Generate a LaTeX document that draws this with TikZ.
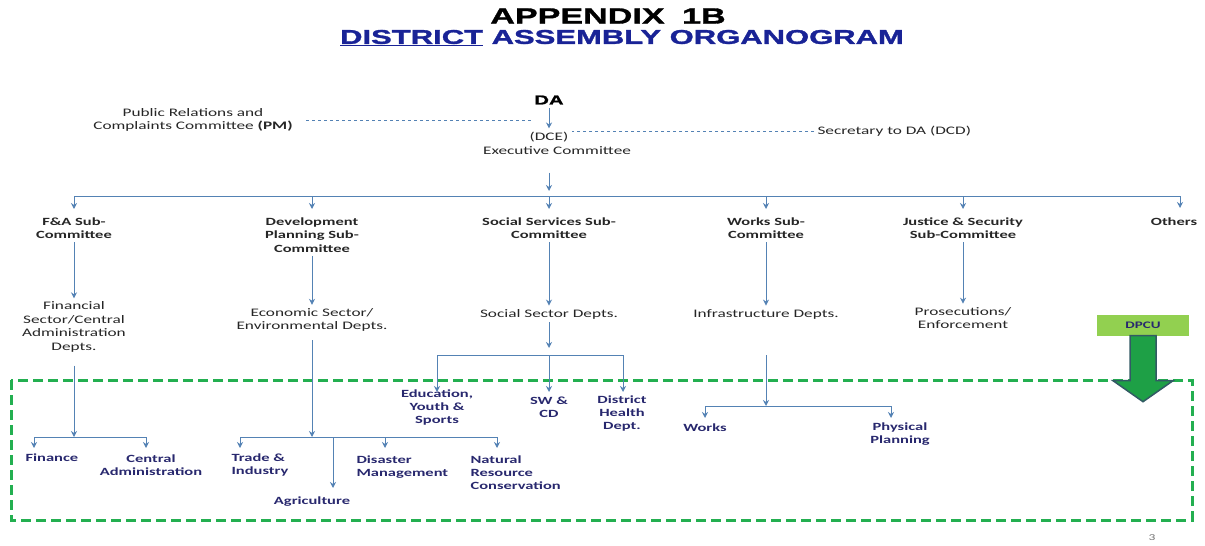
\documentclass[tikz,border=0pt]{standalone}
\usepackage{fontspec}
\usetikzlibrary{arrows.meta}
\newfontfamily\bodyfont[FakeStretch=1.5]{Carlito}
\newfontfamily\titlefont[FakeStretch=1.55,FakeBold=1.5]{Liberation Sans}
\definecolor{linkblue}{RGB}{84,130,180}
\definecolor{navy}{RGB}{40,40,110}
\definecolor{titleblue}{RGB}{25,35,150}
\definecolor{boxgreen}{RGB}{35,175,80}
\definecolor{dpcugreen}{RGB}{146,208,80}
\definecolor{arrowgreen}{RGB}{30,160,70}
\definecolor{arrowedge}{RGB}{50,90,100}

\begin{document}
\begin{tikzpicture}[x=1pt,y=-1pt,
  arr/.style={draw=linkblue,line width=1pt,-{Stealth[length=6pt,width=6pt]}},
  dashlink/.style={draw=linkblue,dashed,line width=0.6pt},
  txt/.style={font=\bodyfont\fontsize{11.5}{13.5}\selectfont,text=black!85,align=center},
  sub/.style={font=\bodyfont\bfseries\fontsize{11}{13.5}\selectfont,text=black!85,align=center,anchor=north},
  unitlbl/.style={font=\bodyfont\bfseries\fontsize{11}{13}\selectfont,text=navy,align=center}]
\useasboundingbox (0,0) rectangle (1205,546);

% heading
\node[font=\titlefont\bfseries\fontsize{22}{22}\selectfont] (ttl) at (608,16) {APPENDIX\hspace{8pt} 1B};
\node[font=\titlefont\bfseries\fontsize{20}{22}\selectfont,text=titleblue] (ttlb) at (622,38) {\underline{DISTRICT} ASSEMBLY ORGANOGRAM};

% top of the organogram
\node[font=\titlefont\bfseries\fontsize{13}{15}\selectfont] (da) at (549,100) {DA};
\node[txt] (dce) at (549,137) {(DCE)};
\node[txt] (exec) at (557,151) {Executive Committee};
\node[txt] (pr) at (193,120) {Public Relations and\\Complaints Committee \textbf{(PM)}};
\node[txt,anchor=west] (sec) at (814,131) {Secretary to DA (DCD)};
\draw[arr] (da.south) -- (dce.north);
\draw[dashlink] ([xshift=10pt]pr.east) -- (pr.east -| da.west);
\draw[dashlink] (sec.west) -- (sec.west -| dce.east);

% sub-committees
\coordinate (bus) at (549,196);
\coordinate (busR) at (1180,196);
\coordinate (othA) at (1180,208);
\node[sub] (fa) at (74,214) {F\&A Sub-\\Committee};
\node[sub] (dp) at (312,214) {Development\\Planning Sub-\\Committee};
\node[sub] (ss) at (549,214) {Social Services Sub-\\Committee};
\node[sub] (wk) at (766,214) {Works Sub-\\Committee};
\node[sub] (js) at (963,214) {Justice \& Security\\Sub-Committee};
\node[sub] (oth) at (1174,214) {Others};
\draw[arr,shorten <=14pt,shorten >=5pt] (dce |- exec.south) -- (bus);
\draw[linkblue,line width=1pt] (fa |- bus) -- (busR);
\foreach \n in {fa,dp,ss,wk,js}
  \draw[arr,shorten >=5pt] (\n |- bus) -- (\n.north);
\draw[arr] (busR) -- (othA);

% departments
\node[txt] (fin) at (74,327) {Financial\\Sector/Central\\Administration\\Depts.};
\node[txt] (econ) at (312,320) {Economic Sector/\\Environmental Depts.};
\node[txt] (soc) at (549,314) {Social Sector Depts.};
\node[txt] (infra) at (766,314) {Infrastructure Depts.};
\node[txt] (pros) at (963,318) {Prosecutions/\\Enforcement};
\draw[arr] (fa.south) -- (fin.north);
\draw[arr] (dp.south) -- (econ.north);
\draw[arr] (ss.south) -- (soc.north);
\draw[arr] (wk.south) -- (infra.north);
\draw[arr] (js.south) -- (pros.north);

% DPCU
\draw[boxgreen,line width=3pt,dash pattern=on 10pt off 5pt] (11,380) rectangle (1192,520);
\node[fill=dpcugreen,minimum width=92pt,minimum height=21pt,font=\bodyfont\bfseries\fontsize{10}{12}\selectfont,text=navy] (dpcu) at (1143,325) {DPCU};
\draw[fill=arrowgreen,draw=arrowedge,line width=1.5pt,line join=miter]
  ([xshift=-13pt]dpcu.south) -- ++(0,45) -- ++(-17,0) -- ++(30,21) -- ++(30,-21) -- ++(-17,0) -- ++(0,-45) -- cycle;

% units
\node[unitlbl,anchor=west] (finance) at (22,458) {Finance};
\node[unitlbl] (centadm) at (151,465) {Central\\Administration};
\node[unitlbl,align=left,anchor=west] (trade) at (228,465) {Trade \&\\Industry};
\node[unitlbl] (agri) at (312,502) {Agriculture};
\node[unitlbl,align=left,anchor=west] (disaster) at (353,467) {Disaster\\Management};
\node[unitlbl,align=left,anchor=west] (natres) at (467,473) {Natural\\Resource\\Conservation};
\node[unitlbl] (edu) at (437,407) {Education,\\Youth \&\\Sports};
\node[unitlbl] (swcd) at (549,407) {SW \&\\CD};
\node[unitlbl] (dhealth) at (622,414) {District\\Health\\Dept.};
\node[unitlbl] (works) at (705,428) {Works};
\node[unitlbl] (physplan) at (900,434) {Physical\\Planning};

\coordinate (fj) at (74,437);
\coordinate (finA) at (34,448);
\coordinate (caA) at (146,448);
\draw[arr,shorten <=10pt] (fin.south) -- (fj);
\draw[arr] (fj) -| (finA);
\draw[arr] (fj) -| (caA);

\coordinate (dj) at (312,437);
\coordinate (tradeA) at (240,448);
\coordinate (disA) at (385,448);
\coordinate (natA) at (497,448);
\coordinate (agJ) at (333,437);
\coordinate (agA) at (333,488);
\draw[arr,shorten <=5pt] (econ.south) -- (dj);
\draw[arr] (dj) -| (tradeA);
\draw[arr] (dj) -| (disA);
\draw[arr] (dj) -| (natA);
\draw[arr] (agJ) -- (agA);

\coordinate (sj) at (549,355);
\coordinate (eduA) at (437,392);
\coordinate (swA) at (549,392);
\coordinate (dhA) at (623,392);
\draw[arr] (soc.south) -- ([yshift=7pt]sj);
\draw[arr] (sj) -| (eduA);
\draw[arr] (sj) -- (swA);
\draw[arr] (sj) -| (dhA);

\coordinate (wj) at (766,406);
\coordinate (worksA) at (705,418);
\coordinate (ppA) at (891,418);
\draw[arr,shorten <=33pt] (infra.south) -- (wj);
\draw[arr] (wj) -| (worksA);
\draw[arr] (wj) -| (ppA);

\node[font=\bodyfont\fontsize{9}{11}\selectfont,text=black!55] (pg) at (1152,538) {3};
\end{tikzpicture}
\end{document}
